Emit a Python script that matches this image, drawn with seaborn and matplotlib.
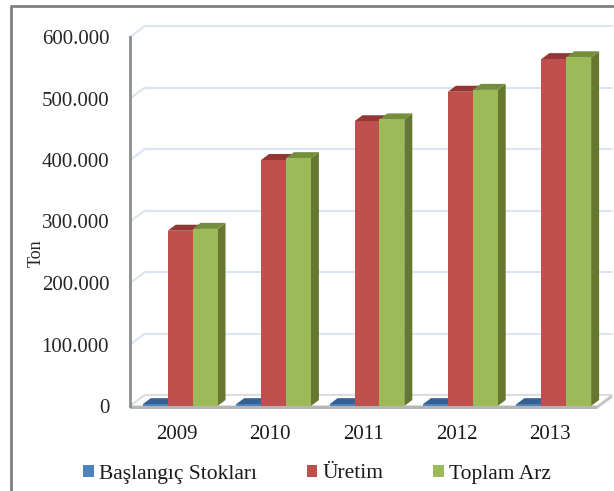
import matplotlib
matplotlib.use("Agg")
import matplotlib.pyplot as plt
import numpy as np
import pandas as pd
import seaborn as sns
from matplotlib.lines import Line2D
from matplotlib.patches import Patch, Polygon
from matplotlib.ticker import FuncFormatter

years = ["2009", "2010", "2011", "2012", "2013"]
baslangic = [3000, 3000, 3000, 3000, 3000]
uretim = [285000, 400000, 463000, 511000, 564000]
toplam = [288000, 403000, 466000, 514000, 567000]
series_names = ["Başlangıç Stokları", "Üretim", "Toplam Arz"]
y_ticks = [0, 100000, 200000, 300000, 400000, 500000, 600000]

colors = ["#4f81bd", "#c0504d", "#9bbb59"]
top_colors = ["#376092", "#943634", "#748e3e"]
side_colors = ["#2f5480", "#7f2e2c", "#66782f"]

W, H = 614, 491
BAR_DX, BAR_DY = 8, 6
WALL_DX, WALL_DY = 15, 11
SHIFT = 0.037

sns.set_theme(style="white")
plt.rcParams["font.family"] = ["Liberation Serif", "DejaVu Serif"]

df = pd.DataFrame({"year": years, series_names[0]: baslangic,
                   series_names[1]: uretim, series_names[2]: toplam})
long_df = df.melt(id_vars="year", var_name="series", value_name="value")

fig = plt.figure(figsize=(W / 100, H / 100), dpi=100, facecolor="white")
ax = fig.add_axes([130 / W, 1 - 406 / H, (597 - 130) / W, (406 - 37) / H])
ax.patch.set_alpha(0)
sns.barplot(data=long_df, x="year", y="value", hue="series", hue_order=series_names,
            palette=colors, width=0.8, gap=0, saturation=1, legend=False, ax=ax,
            edgecolor="none", linewidth=0)

ax.set_xlim(-0.5 - SHIFT, 4.5 - SHIFT)
ax.set_ylim(0, 600000)
ax.set_xticks(np.arange(len(years)) - SHIFT, years)
ax.set_yticks(y_ticks)
ax.yaxis.set_major_formatter(FuncFormatter(lambda v, _: f"{v:,.0f}".replace(",", ".")))
ax.set_xlabel("")
ax.set_ylabel("Ton", fontsize=13, color="#262626")
ax.yaxis.set_label_coords(-85 / 467, 0.415)
ax.tick_params(axis="x", length=0, pad=14, labelsize=15, labelcolor="#1a1a1a")
ax.tick_params(axis="y", length=5, width=1.5, color="#8c8c8c", pad=10, labelsize=15, labelcolor="#262626")
for side in ["top", "right", "bottom"]:
    ax.spines[side].set_visible(False)
ax.spines["left"].set_color("#8c8c8c")
ax.spines["left"].set_linewidth(2)


def to_px(x, y):
    return ax.transData.transform((x, y))


def add_px(pts, color, z, edge="none", lw=0):
    ax.add_patch(Polygon(pts, closed=True, facecolor=color, edgecolor=edge, linewidth=lw,
                         transform=None, clip_on=False, zorder=z))


# back wall gridlines and floor, worked out from the axes scale
x0, x1 = ax.get_xlim()
wall = dict(color="#dce6f2", lw=1.6, transform=None, clip_on=False, zorder=1)
for v in y_ticks:
    a = to_px(x0, v)
    b = to_px(x1, v)
    ax.add_line(Line2D([a[0], a[0] + WALL_DX], [a[1], a[1] + WALL_DY], **wall))
    ax.add_line(Line2D([a[0] + WALL_DX, b[0] + WALL_DX], [a[1] + WALL_DY, b[1] + WALL_DY], **wall))

a = to_px(x0, 0)
b = to_px(x1, 0)
add_px([a, b, b + (WALL_DX, WALL_DY), a + (WALL_DX, WALL_DY)], "white", 1.5, edge="#d9d9d9", lw=1.2)
add_px([a, b, b + (0, -3), a + (0, -3)], "#b5b5b5", 2)
add_px([b, b + (WALL_DX, WALL_DY), b + (WALL_DX, WALL_DY - 3), b + (0, -3)], "#c4c4c4", 2)

# 3D faces on top of each seaborn bar
for s, cont in enumerate(ax.containers):
    for bar in cont:
        l, r = bar.get_x(), bar.get_x() + bar.get_width()
        p0, p1 = to_px(l, 0), to_px(r, bar.get_height())
        tl = np.array([p0[0], p1[1]])
        tr = p1
        br = np.array([p1[0], p0[1]])
        d = np.array([BAR_DX, BAR_DY])
        add_px([tl, tr, tr + d, tl + d], top_colors[s], 3.2 + s * 0.2)
        add_px([tr, br, br + d, tr + d], side_colors[s], 3.1 + s * 0.2)
        bar.set_zorder(4)

handles = [Patch(facecolor=c, edgecolor="none") for c in colors]
fig.legend(handles, series_names, loc="center left", bbox_to_anchor=(83 / W, 1 - 474 / H),
           ncol=3, frameon=False, fontsize=15.5, handlelength=0.5, handleheight=0.5,
           handletextpad=0.25, columnspacing=2.3, labelcolor="#1a1a1a", borderpad=0, borderaxespad=0)

# outer chart frame, open on the right and bottom
fig.add_artist(Line2D([10.5 / W, 10.5 / W, 1], [0, 1 - 6 / H, 1 - 6 / H], color="#808080", lw=2,
                      transform=fig.transFigure))

fig.savefig("out.png", dpi=100)
